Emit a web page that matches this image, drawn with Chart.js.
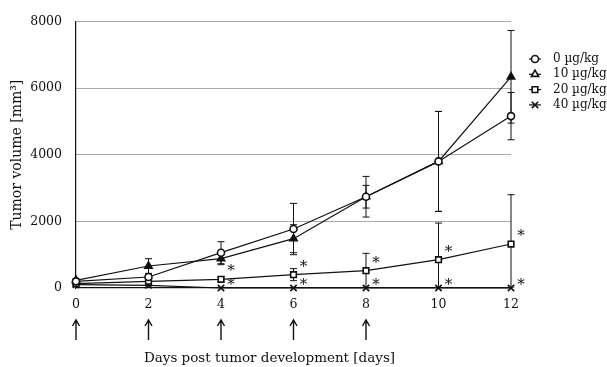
<!DOCTYPE html>
<html><head><meta charset="utf-8">
<script src="https://cdn.jsdelivr.net/npm/chart.js@4.4.0/dist/chart.umd.min.js"></script>
<style>html,body{margin:0;padding:0;background:#fff}#wrap{width:607px;height:367px}</style>
</head><body><div id="wrap"><canvas id="c"></canvas></div>
<script>
const days = [0, 2, 4, 6, 8, 10, 12];
const doseLabels = ['0 µg/kg', '10 µg/kg', '20 µg/kg', '40 µg/kg'];
const vol0 = [200, 330, 1060, 1770, 2740, 3800, 5160];
const err0 = [50, 80, 330, 770, 610, 1500, 710];
const vol10 = [230, 660, 880, 1480, 2740, 3800, 6340];
const err10 = [50, 220, 180, 420, 340, 1500, 1390];
const vol20 = [130, 200, 260, 400, 520, 850, 1320];
const err20 = [30, 60, 70, 180, 520, 1100, 1480];
const vol40 = [100, 80, 0, 0, 0, 0, 0];
const err40 = [20, 20, 0, 0, 0, 0, 0];
const sig20 = [0, 0, 1, 1, 1, 1, 1];
const sig40 = [0, 0, 1, 1, 1, 1, 1];
const injectionDays = [0, 2, 4, 6, 8];
const yTicks = [0, 2000, 4000, 6000, 8000];

const FONT = "'DejaVu Serif', 'Liberation Serif', serif";
const styles = ['circle', 'triangle', 'rect', 'crossRot'];
const radii = [3.5, 4.2, 4, 4.5];
const fills = ['#fff', '#111', '#fff', '#fff'];
const series = [vol0, vol10, vol20, vol40];
const errs = [err0, err10, err20, err40];

const datasets = series.map((vals, i) => ({
  label: doseLabels[i],
  data: days.map((d, k) => ({x: d, y: vals[k]})),
  borderColor: '#111',
  borderWidth: 1.2,
  pointStyle: styles[i],
  pointRadius: radii[i],
  pointBorderWidth: 1.6,
  pointBackgroundColor: fills[i],
  pointBorderColor: '#111',
  tension: 0,
  clip: false
}));

const extras = {
  id: 'extras',
  beforeDatasetsDraw(chart) {
    const ctx = chart.ctx, xs = chart.scales.x, ys = chart.scales.y, a = chart.chartArea;
    ctx.save();
    ctx.beginPath(); ctx.rect(a.left - 10, a.top - 10, a.right - a.left + 20, a.bottom - a.top + 10); ctx.clip();
    ctx.strokeStyle = '#111'; ctx.lineWidth = 1;
    errs.forEach((e, i) => {
      days.forEach((d, k) => {
        if (!e[k]) return;
        const x = xs.getPixelForValue(d);
        const yt = ys.getPixelForValue(series[i][k] + e[k]);
        const yb = ys.getPixelForValue(Math.max(0, series[i][k] - e[k]));
        ctx.beginPath();
        ctx.moveTo(x, yt); ctx.lineTo(x, yb);
        ctx.moveTo(x - 3.5, yt); ctx.lineTo(x + 3.5, yt);
        ctx.moveTo(x - 3.5, yb); ctx.lineTo(x + 3.5, yb);
        ctx.stroke();
      });
    });
    ctx.restore();
  },
  afterDraw(chart) {
    const ctx = chart.ctx, xs = chart.scales.x, ys = chart.scales.y, a = chart.chartArea;
    ctx.save();
    ctx.fillStyle = '#111';
    ctx.font = '15px ' + FONT;
    ctx.textAlign = 'center'; ctx.textBaseline = 'middle';
    days.forEach((d, k) => {
      const x = xs.getPixelForValue(d);
      if (sig20[k]) ctx.fillText('*', x + 10, ys.getPixelForValue(vol20[k]) - 8);
      if (sig40[k]) ctx.fillText('*', x + 10, ys.getPixelForValue(vol40[k]) - 3);
    });
    // arrows
    ctx.strokeStyle = '#111'; ctx.lineWidth = 1.4;
    injectionDays.forEach(d => {
      const x = xs.getPixelForValue(d);
      ctx.beginPath();
      ctx.moveTo(x, a.bottom + 32); ctx.lineTo(x, a.bottom + 52);
      ctx.moveTo(x - 3.5, a.bottom + 38); ctx.lineTo(x, a.bottom + 32); ctx.lineTo(x + 3.5, a.bottom + 38);
      ctx.stroke();
    });
    // x title
    ctx.font = '13.5px ' + FONT;
    ctx.fillText('Days post tumor development [days]', (a.left + a.right) / 2 - 24, a.bottom + 70);
    // legend
    ctx.textAlign = 'left';
    ctx.font = '12px ' + FONT;
    doseLabels.forEach((lab, i) => {
      const y = 59 + i * 15.3;
      const x = 535;
      ctx.strokeStyle = '#111';
      ctx.lineWidth = 1.2;
      ctx.beginPath(); ctx.moveTo(x - 6, y); ctx.lineTo(x + 6, y); ctx.stroke();
      ctx.fillStyle = '#fff';
      ctx.lineWidth = 1.6;
      Chart.helpers.drawPoint(ctx, {pointStyle: styles[i], radius: radii[i], rotation: 0, borderWidth: 1.6}, x, y);
      ctx.fillStyle = '#111';
      ctx.fillText(lab, 553, y);
    });
    ctx.restore();
  }
};

new Chart(document.getElementById('c'), {
  type: 'line',
  data: {datasets},
  options: {
    responsive: true, maintainAspectRatio: false, animation: false,
    layout: {padding: {top: 14, right: 96, bottom: 0, left: 0}},
    plugins: {legend: {display: false}, tooltip: {enabled: false}},
    scales: {
      x: {
        type: 'linear', min: 0, max: 12,
        afterFit(s) { s.height = 79; },
        afterBuildTicks(s) { s.ticks = days.map(v => ({value: v})); },
        grid: {display: false, drawTicks: false},
        border: {color: '#111', width: 1.2},
        ticks: {color: '#111', font: {family: FONT, size: 12.5}, padding: 9, callback: v => String(v)}
      },
      y: {
        min: 0, max: 8000,
        afterFit(s) { s.width = 76; },
        afterBuildTicks(s) { s.ticks = yTicks.map(v => ({value: v})); },
        grid: {color: ctx => ctx.tick && ctx.tick.value === 0 ? 'rgba(0,0,0,0)' : '#aaa', lineWidth: 1, drawTicks: false},
        border: {color: '#111', width: 1.2},
        ticks: {color: '#111', font: {family: FONT, size: 12.5}, padding: 14, callback: v => String(v)},
        title: {display: true, text: 'Tumor volume [mm³]', color: '#111', font: {family: FONT, size: 14}, padding: {top: 9, bottom: 8}}
      }
    }
  },
  plugins: [extras]
});
</script></body></html>
